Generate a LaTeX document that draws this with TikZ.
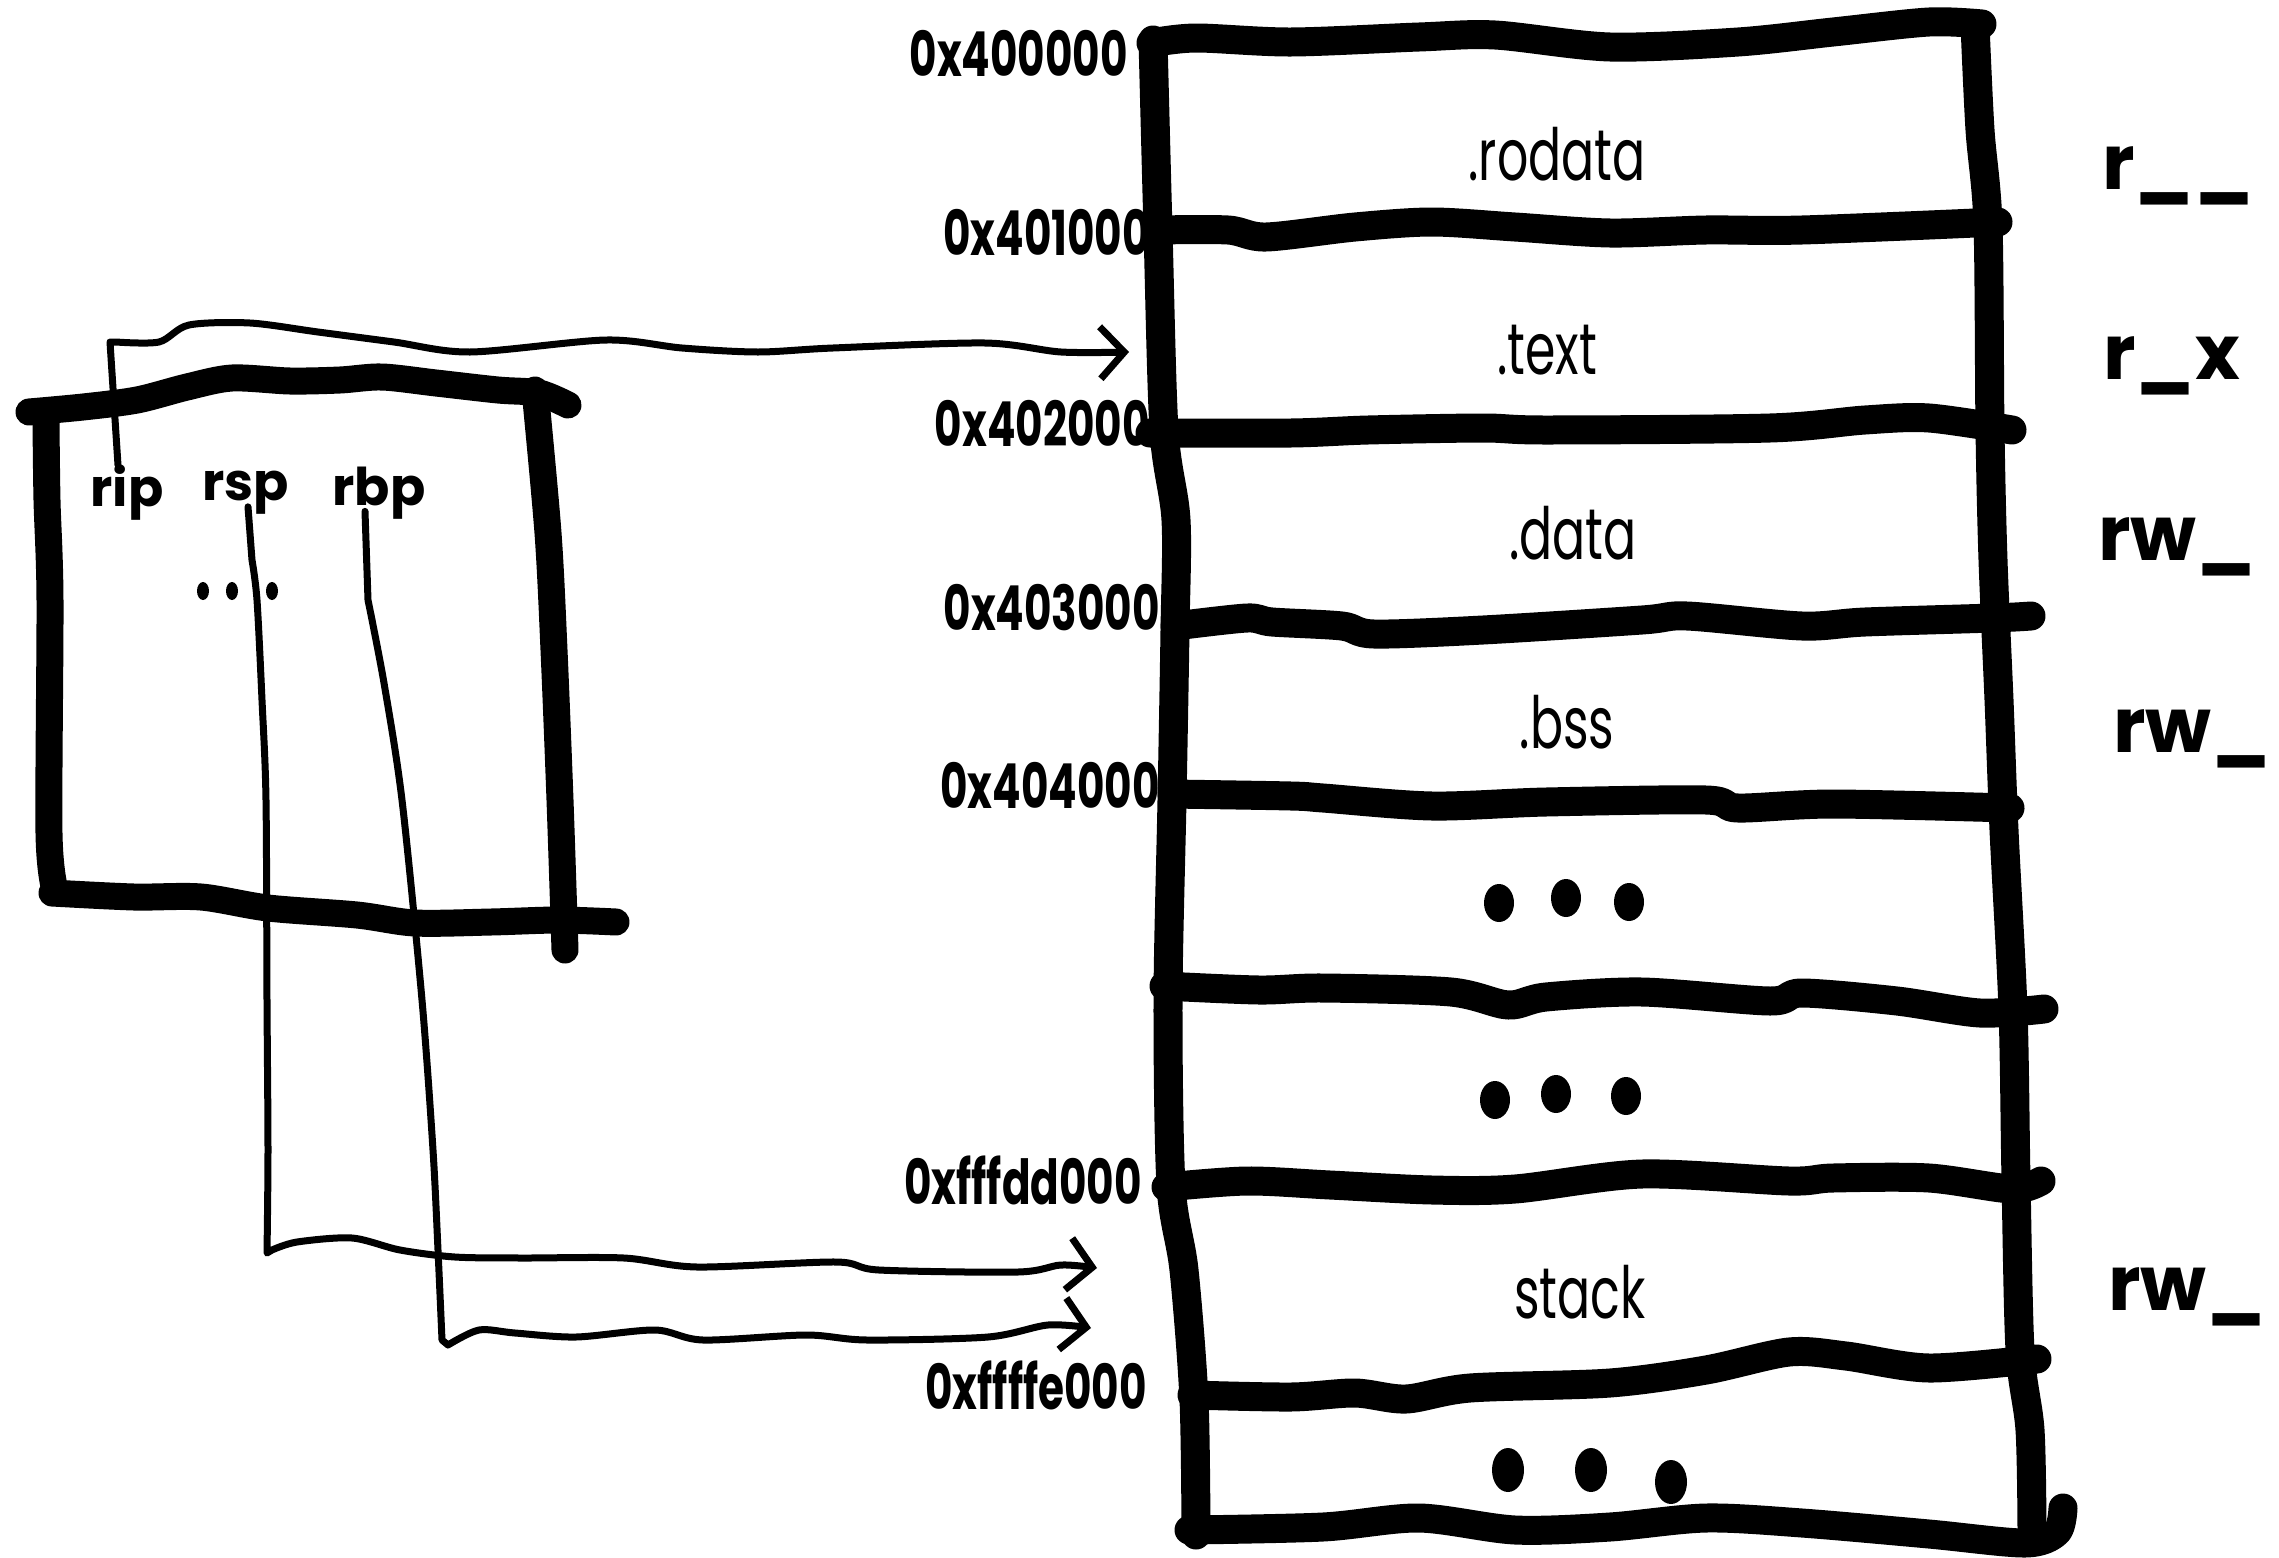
\documentclass[tikz,border=0pt]{standalone}
\usepackage{fontspec}
\setmainfont{Poppins}
\newfontfamily\handn{Poppins}[FakeStretch=0.68]
\usetikzlibrary{arrows.meta}
\begin{document}
\begin{tikzpicture}[x=1pt,y=-1pt,
  wall/.style={line width=29pt, line cap=round, line join=round},
  frame/.style={line width=27pt, line cap=round, line join=round},
  conn/.style={line width=7pt, line cap=round, line join=round,
    -{Straight Barb[length=24pt,width=52pt]}},
  addr/.style={anchor=east, inner sep=0pt, font=\handn\bfseries\fontsize{62}{62}\selectfont},
  sect/.style={inner sep=0pt, font=\handn\fontsize{72}{72}\selectfont},
  reg/.style={inner sep=0pt, font=\bfseries\fontsize{52}{52}\selectfont},
  perm/.style={anchor=base west, inner sep=0pt, font=\bfseries\fontsize{76}{76}\selectfont}]
\useasboundingbox[fill=white] (0,0) rectangle (2279,1558);

% ---------- memory map column ----------
% side walls
\draw[wall] plot[smooth] coordinates {(1153,40) (1158,230) (1164,430) (1176,520) (1175,630) (1172,800) (1168,1000) (1171,1185) (1184,1270) (1194,1400) (1196,1535)};
\draw[wall] plot[smooth] coordinates {(1975,25) (1980,130) (1988,225) (1990,430) (1993,560) (1999,700) (2004,830) (2013,1010) (2016,1180) (2020,1350) (2030,1430) (2032,1530)};
% section boundaries
\draw[wall] plot[smooth] coordinates {(1151,43) (1196,38) (1291,42) (1419,37) (1495,35) (1610,47) (1738,42) (1833,32) (1929,22) (1982,24)};
\draw[wall] plot[smooth] coordinates {(1157,230) (1228,230) (1266,237) (1355,227) (1432,222) (1515,227) (1610,233) (1706,230) (1802,230) (1998,222)};
\draw[wall] plot[smooth] coordinates {(1150,433) (1291,433) (1368,430) (1483,428) (1546,430) (1770,428) (1865,420) (1929,418) (2012,430)};
\draw[wall] plot[smooth] coordinates {(1175,626) (1247,618) (1272,622) (1342,626) (1374,634) (1483,630) (1642,620) (1687,616) (1802,626) (1865,622) (1993,618) (2031,616)};
\draw[wall] plot[smooth] coordinates {(1172,794) (1291,796) (1323,798) (1432,806) (1546,802) (1706,800) (1738,808) (1833,804) (2010,808)};
\draw[wall] plot[smooth] coordinates {(1164,986) (1259,990) (1323,988) (1451,992) (1508,1005) (1546,997) (1642,992) (1770,1001) (1802,993) (1897,1001) (1980,1013) (2044,1009)};
\draw[wall] plot[smooth] coordinates {(1166,1187) (1247,1181) (1330,1185) (1432,1190) (1515,1189) (1642,1174) (1789,1181) (1833,1178) (1929,1178) (2012,1189) (2041,1181)};
\draw[wall] plot[smooth] coordinates {(1192,1395) (1291,1397) (1355,1393) (1406,1399) (1470,1388) (1610,1383) (1706,1370) (1789,1352) (1846,1356) (1929,1368) (2037,1359)};
\draw[wall] plot[smooth] coordinates {(1189,1530) (1323,1527) (1419,1518) (1515,1530) (1610,1527) (1706,1518) (1802,1523) (1929,1534) (2025,1543) (2057,1532) (2063,1508)};

% section names
\node[sect] (rodata) at (1557,154) {.rodata};
\node[sect] (text)   at (1547,350) {.text};
\node[sect] (data)   at (1573,533) {.data};
\node[sect] (bss)    at (1567,722) {.bss};
\node[sect] (stack)  at (1580,1292) {stack};

% elided regions
\foreach \x/\y in {1499/903, 1566/898, 1629/902, 1495/1100, 1556/1094, 1626/1096}
  \fill (\x,\y) ellipse [x radius=15, y radius=19];
\foreach \x/\y in {1508/1470, 1591/1470, 1671/1482}
  \fill (\x,\y) ellipse [x radius=16, y radius=22];

% start addresses
\node[addr] (a0) at (1128,53)   {0x400000};
\node[addr] (a1) at (1150,232)  {0x401000};
\node[addr] (a2) at (1150,423)  {0x402000};
\node[addr] (a3) at (1160,608)  {0x403000};
\node[addr] (a4) at (1160,785)  {0x404000};
\node[addr] (a5) at (1142,1180) {0xfffdd000};
\node[addr] (a6) at (1147,1385) {0xffffe000};

% permissions
\node[perm] (p1) at (2102,189)  {r\_\_};
\node[perm] (p2) at (2103,379)  {r\_x};
\node[perm] (p3) at (2098,560)  {rw\_};
\node[perm] (p4) at (2113,752)  {rw\_};
\node[perm] (p5) at (2108,1310) {rw\_};

% ---------- register file ----------
\draw[frame] plot[smooth] coordinates {(29,412) (83,407) (137,400) (187,387) (232,378) (290,381) (340,380) (382,377) (436,383) (498,390) (539,393) (568,405)};
\draw[frame] plot[smooth] coordinates {(46,420) (47,500) (50,600) (49,833) (55,890)};
\draw[frame] plot[smooth] coordinates {(52,893) (134,897) (201,897) (268,908) (357,915) (415,923) (491,922) (558,920) (616,922)};
\draw[frame] plot[smooth] coordinates {(535,390) (548,533) (554,650) (560,800) (565,950)};

\node[reg] (rip) at (127,493) {rip};
\node[reg] (rsp) at (246,493) {rsp};
\node[reg] (rbp) at (379,493) {rbp};
\foreach \x in {203,232,272}
  \fill (\x,591) ellipse [x radius=6, y radius=9];

% ---------- pointers ----------
\coordinate (textin) at (1129,352);
\coordinate (stackA) at (1097,1268);
\coordinate (stackB) at (1091,1328);

\draw[conn] ([xshift=-9pt]rip.north) -- (110,342) -- plot[smooth] coordinates {(116,342) (159,342) (189,325) (250,323) (318,332) (394,342) (470,352) (606,340) (682,348) (758,352) (833,348) (985,343) (1061,352) (textin)};
\draw[conn] ([xshift=2pt,yshift=8pt]rsp.south) -- plot[smooth] coordinates {(252,560) (257,600) (262,700) (266,800) (267,1000) (268,1150) (267,1253)} -- plot[smooth] coordinates {(272,1250) (297,1242) (352,1238) (400,1250) (455,1257) (521,1258) (624,1258) (697,1267) (836,1262) (879,1270) (1018,1272) (1061,1265) (stackA)};
\draw[conn] ([xshift=-14pt,yshift=8pt]rbp.south) -- plot[smooth] coordinates {(368,600) (384,683) (402,800) (422,1000) (433,1150) (438,1250) (442,1340)} -- plot[smooth] coordinates {(448,1345) (479,1330) (515,1333) (576,1337) (655,1330) (703,1340) (806,1335) (867,1340) (988,1337) (1048,1325) (stackB)};
\end{tikzpicture}
\end{document}
